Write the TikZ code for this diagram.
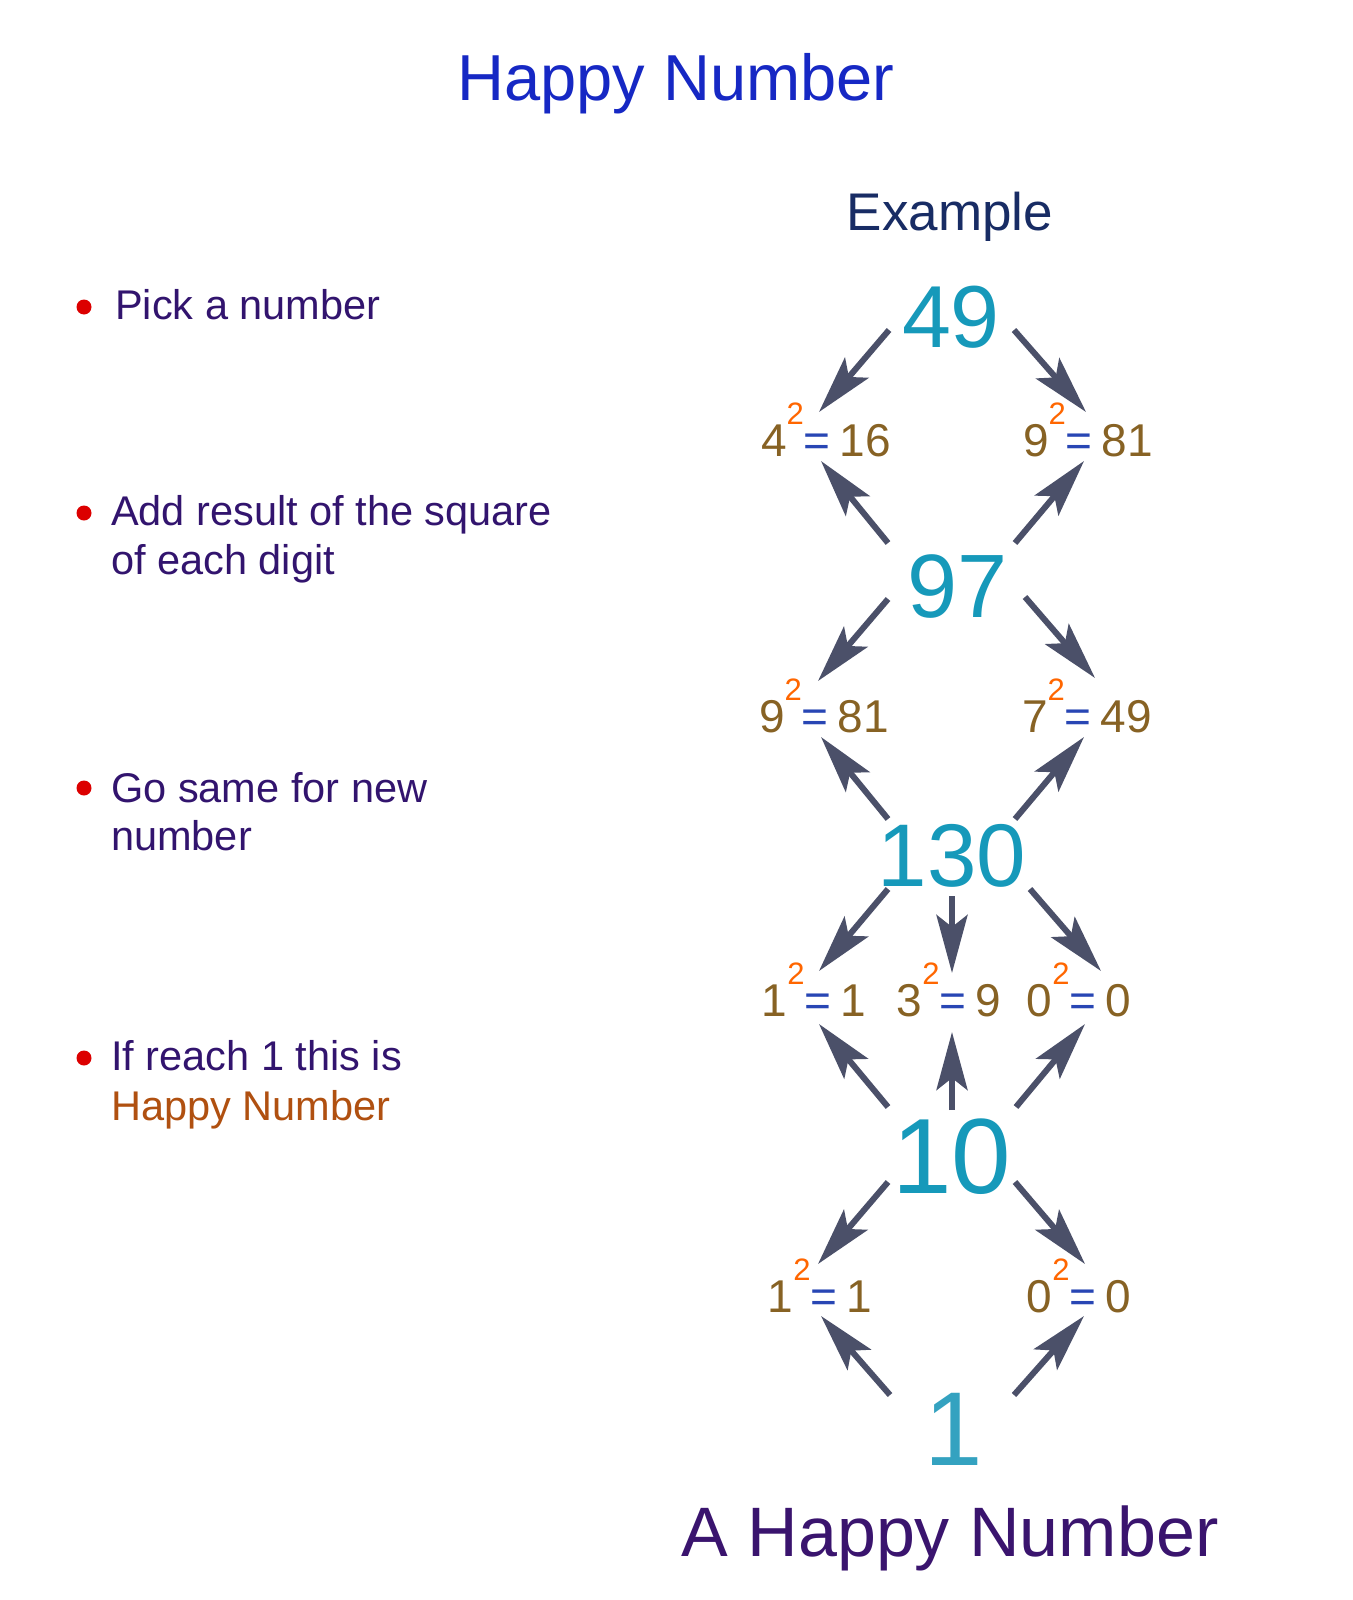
\documentclass[tikz,border=0pt]{standalone}
\usepackage{fontspec}
\setmainfont{Liberation Sans}
\usetikzlibrary{arrows.meta,calc}
\definecolor{titlec}{RGB}{22,40,196}
\definecolor{examc}{RGB}{24,44,100}
\definecolor{bulc}{RGB}{50,20,110}
\definecolor{dotc}{RGB}{220,0,0}
\definecolor{happyc}{RGB}{176,80,16}
\definecolor{numc}{RGB}{22,153,186}
\definecolor{onec}{RGB}{52,162,192}
\definecolor{labc}{RGB}{135,98,36}
\definecolor{eqc}{RGB}{40,70,180}
\definecolor{supc}{RGB}{255,102,0}
\definecolor{arrc}{RGB}{75,80,105}
\definecolor{finc}{RGB}{58,20,110}
\newcommand\sqlabel[2]{#1\raisebox{32pt}{\fontsize{31}{31}\selectfont\textcolor{supc}{2}}\textcolor{eqc}{=}\hspace{9pt}#2}
\tikzset{
  arr/.style={draw=arrc, line width=6pt, -{Stealth[length=58pt,width=31pt,inset=12pt]}},
  big/.style={anchor=base, inner sep=0pt, text=numc},
  sqlab/.style={anchor=base, inner sep=0pt, text=labc, font=\fontsize{46}{54}\selectfont},
  bul/.style={anchor=base west, inner sep=0pt, text=bulc, font=\fontsize{41.5}{49}\selectfont},
  dot/.style={fill=dotc},
}
\begin{document}
\begin{tikzpicture}[x=1pt,y=-1pt]
\useasboundingbox (0,0) rectangle (1352,1600);
\fill[white] (0,0) rectangle (1352,1600);
% title
\node[anchor=base, inner sep=0pt, text=titlec, font=\fontsize{65}{78}\selectfont] (title) at (676,101) {Happy Number};
\node[anchor=base, inner sep=0pt, text=examc, font=\fontsize{53}{62}\selectfont] (example) at (950,230) {Example};
% bullets
\fill[dot] (84,307) circle (7.5);
\node[bul] (b1) at (115,319) {Pick a number};
\fill[dot] (84,513) circle (7.5);
\node[bul] (b2a) at (111,525) {Add result of the square};
\node[bul] (b2b) at (111,574) {of each digit};
\fill[dot] (84,788) circle (7.5);
\node[bul] (b3a) at (111,802) {Go same for new};
\node[bul] (b3b) at (111,850) {number};
\fill[dot] (84,1058) circle (7.5);
\node[bul] (b4a) at (111,1070) {If reach 1 this is};
\node[bul, text=happyc] (b4b) at (111,1120) {Happy Number};
% big numbers
\node[big, font=\fontsize{88}{100}\selectfont] (n49) at (951,347) {49};
\node[big, font=\fontsize{90}{100}\selectfont] (n97) at (958,617) {97};
\node[big, font=\fontsize{89}{100}\selectfont] (n130) at (952,886) {130};
\node[big, font=\fontsize{107}{120}\selectfont] (n10) at (952,1193) {10};
\node[big, text=onec, font=\fontsize{105}{120}\selectfont] (n1) at (954,1465) {1};
\node[anchor=base, inner sep=0pt, text=finc, font=\fontsize{70}{84}\selectfont] (final) at (950,1556) {A Happy Number};
% square labels
\node[sqlab] (l1a) at (826,456) {\sqlabel{4}{16}};
\node[sqlab] (l1b) at (1088,456) {\sqlabel{9}{81}};
\node[sqlab] (l2a) at (824,732) {\sqlabel{9}{81}};
\node[sqlab] (l2b) at (1087,732) {\sqlabel{7}{49}};
\node[sqlab] (l3a) at (814,1016) {\sqlabel{1}{1}};
\node[sqlab] (l3b) at (949,1016) {\sqlabel{3}{9}};
\node[sqlab] (l3c) at (1079,1016) {\sqlabel{0}{0}};
\node[sqlab] (l4a) at (820,1312) {\sqlabel{1}{1}};
\node[sqlab] (l4b) at (1079,1312) {\sqlabel{0}{0}};
% arrows
\draw[arr] ($(n49.base)+(-62,-17)$) -- ($(l1a.base)+(-7,-44)$);
\draw[arr] ($(n49.base)+(63,-17)$) -- ($(l1b.base)+(-2,-44)$);
\draw[arr] ($(n97.base)+(-70,-74)$) -- ($(l1a.base)+(-5,5)$);
\draw[arr] ($(n97.base)+(57,-74)$) -- ($(l1b.base)+(-4,5)$);
\draw[arr] ($(n97.base)+(-70,-18)$) -- ($(l2a.base)+(-6,-51)$);
\draw[arr] ($(n97.base)+(67,-20)$) -- ($(l2b.base)+(8,-54)$);
\draw[arr] ($(n130.base)+(-64,-67)$) -- ($(l2a.base)+(-3,5)$);
\draw[arr] ($(n130.base)+(63,-67)$) -- ($(l2b.base)+(-3,5)$);
\draw[arr] ($(n130.base)+(-64,3)$) -- ($(l3a.base)+(5,-45)$);
\draw[arr] ($(n130.base)+(0,10)$) -- ($(l3b.base)+(3,-43)$);
\draw[arr] ($(n130.base)+(78,3)$) -- ($(l3c.base)+(22,-45)$);
\draw[arr] ($(n10.base)+(-64,-86)$) -- ($(l3a.base)+(5,8)$);
\draw[arr] ($(n10.base)+(0,-83)$) -- ($(l3b.base)+(3,16)$);
\draw[arr] ($(n10.base)+(64,-86)$) -- ($(l3c.base)+(6,8)$);
\draw[arr] ($(n10.base)+(-64,-11)$) -- ($(l4a.base)+(-2,-48)$);
\draw[arr] ($(n10.base)+(63,-11)$) -- ($(l4b.base)+(6,-48)$);
\draw[arr] ($(n1.base)+(-64,-70)$) -- ($(l4a.base)+(1,4)$);
\draw[arr] ($(n1.base)+(60,-70)$) -- ($(l4b.base)+(5,4)$);
\end{tikzpicture}
\end{document}
